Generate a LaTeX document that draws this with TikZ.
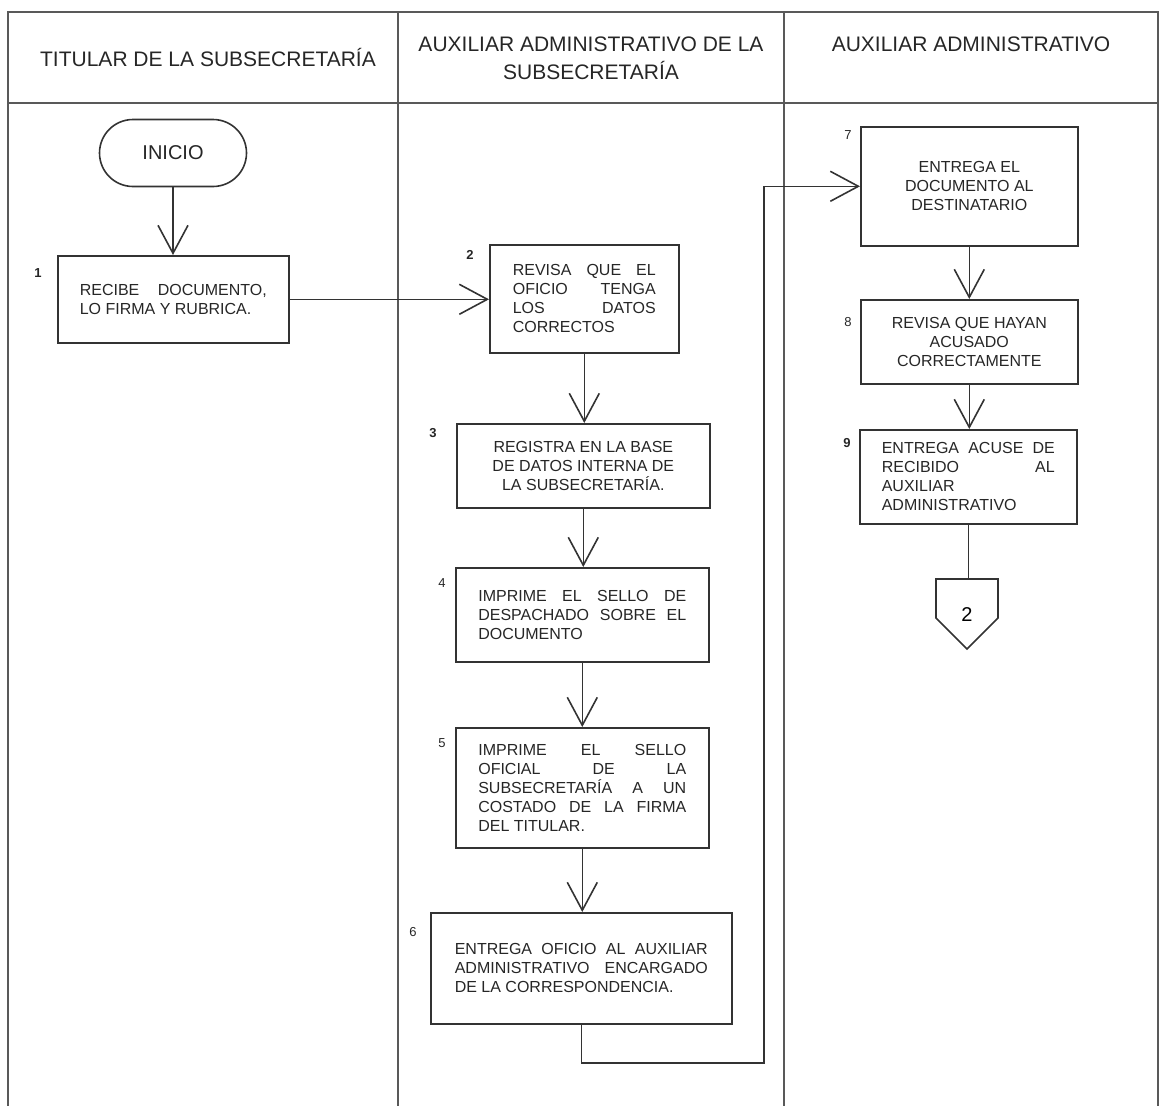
\documentclass[tikz,border=0pt]{standalone}
\usepackage{fontspec}
\setmainfont{Liberation Sans}
\usetikzlibrary{arrows.meta,shapes.misc}
\tolerance=10000
\hyphenpenalty=10000

\begin{document}
\begin{tikzpicture}[x=1pt,y=1pt]
\tikzstyle{every node}+=[inner sep=0pt]
\tikzstyle{tabla}=[draw=black!65, line width=2pt]
\tikzstyle{paso}=[draw=black!80, line width=1.6pt, anchor=north west, text=black!85, font=\fontsize{16}{19}\selectfont]
\tikzstyle{justo}=[align=justify]
\tikzstyle{centro}=[align=center]
\tikzstyle{num}=[text=black!85, font=\fontsize{13}{15}\selectfont]
\tikzstyle{numb}=[text=black!85, font=\fontsize{13}{15}\selectfont\bfseries]
\tikzstyle{titulo}=[text=black!85, align=center, font=\fontsize{21}{28}\selectfont]
\tikzstyle{flecha}=[draw=black!80, line width=1.6pt, -{Straight Barb[length=28pt,width=30pt]}]
\tikzstyle{linea}=[draw=black!80, line width=1.6pt]
\useasboundingbox (0,0) rectangle (1160,-1106);
% tabla y carriles
\draw [tabla] (8,-1106) -- (8,-12) -- (1158,-12) -- (1158,-1106);
\draw [tabla] (8,-103) -- (1158,-103);
\draw [tabla] (398,-12) -- (398,-1106);
\draw [tabla] (784,-12) -- (784,-1106);
\node [titulo] (h1) at (208,-57) {TITULAR DE LA SUBSECRETARÍA};
\node [titulo] (h2) at (591,-58) {AUXILIAR ADMINISTRATIVO DE LA\\SUBSECRETARÍA};
\node [titulo] (h3) at (971,-44) {AUXILIAR ADMINISTRATIVO};
% titular
\node [draw=black!80, line width=1.6pt, rounded rectangle, minimum width=147, minimum height=67, text=black!85, font=\fontsize{20}{24}\selectfont] (inicio) at (173,-153) {INICIO};
\node [paso, justo, minimum width=231, minimum height=87, text width=187] (b1) at (57,-255) {RECIBE DOCUMENTO,\linebreak LO FIRMA Y RUBRICA.};
\node [numb] (n1) at (38,-273) {1};
% auxiliar de la subsecretaria
\node [paso, justo, minimum width=189, minimum height=108, text width=143] (b2) at (489,-244) {REVISA QUE EL\linebreak OFICIO TENGA\linebreak LOS DATOS\linebreak CORRECTOS};
\node [numb] (n2) at (470,-255) {2};
\node [paso, centro, minimum width=253, minimum height=84] (b3) at (456,-423) {REGISTRA EN LA BASE\\DE DATOS INTERNA DE\\LA SUBSECRETARÍA.};
\node [numb] (n3) at (433,-433) {3};
\node [paso, justo, minimum width=253, minimum height=94, text width=208] (b4) at (455,-567) {IMPRIME EL SELLO DE\linebreak DESPACHADO SOBRE EL\linebreak DOCUMENTO};
\node [num] (n4) at (442,-583) {4};
\node [paso, justo, minimum width=253, minimum height=120, text width=208] (b5) at (455,-727) {IMPRIME EL SELLO\linebreak OFICIAL DE LA\linebreak SUBSECRETARÍA A UN\linebreak COSTADO DE LA FIRMA\linebreak DEL TITULAR.};
\node [num] (n5) at (442,-743) {5};
\node [paso, justo, minimum width=301, minimum height=111, text width=253] (b6) at (430,-912) {ENTREGA OFICIO AL AUXILIAR\linebreak ADMINISTRATIVO ENCARGADO\linebreak DE LA CORRESPONDENCIA.};
\node [num] (n6) at (413,-932) {6};
% auxiliar administrativo
\node [paso, centro, minimum width=217, minimum height=119] (b7) at (860,-126) {ENTREGA EL\\DOCUMENTO AL\\DESTINATARIO};
\node [num] (n7) at (848,-135) {7};
\node [paso, centro, minimum width=217, minimum height=84] (b8) at (860,-299) {REVISA QUE HAYAN\\ACUSADO\\CORRECTAMENTE};
\node [num] (n8) at (848,-322) {8};
\node [paso, justo, minimum width=217, minimum height=94, text width=173] (b9) at (859,-429) {ENTREGA ACUSE DE\linebreak RECIBIDO AL\linebreak AUXILIAR\\ADMINISTRATIVO};
\node [numb] (n9) at (847,-443) {9};
% conector fuera de pagina
\coordinate (fin) at (967,-579);
\draw [linea] (fin) -- ++(31,0) -- ++(0,-39) -- ++(-31,-31) -- ++(-31,31) -- ++(0,39) -- cycle;
\node [text=black, font=\fontsize{20}{24}\selectfont] (c2) at (967,-615) {2};
% flechas
\draw [flecha] (inicio.south) -- (inicio.south |- b1.north);
\draw [flecha] (b1.east) -- (b1.east -| b2.west);
\draw [flecha] (b2.south) -- (b2.south |- b3.north);
\draw [flecha] (b3.south) -- (b3.south |- b4.north);
\draw [flecha] (b4.south) -- (b4.south |- b5.north);
\draw [flecha] (b5.south) -- (b5.south |- b6.north);
\coordinate (codo) at (764,-1063);
\draw [flecha] (b6.south) |- (codo) |- (b7.west);
\draw [flecha] (b7.south) -- (b7.south |- b8.north);
\draw [flecha] (b8.south) -- (b8.south |- b9.north);
\draw [linea] (b9.south) -- (b9.south |- fin);
\end{tikzpicture}
\end{document}
